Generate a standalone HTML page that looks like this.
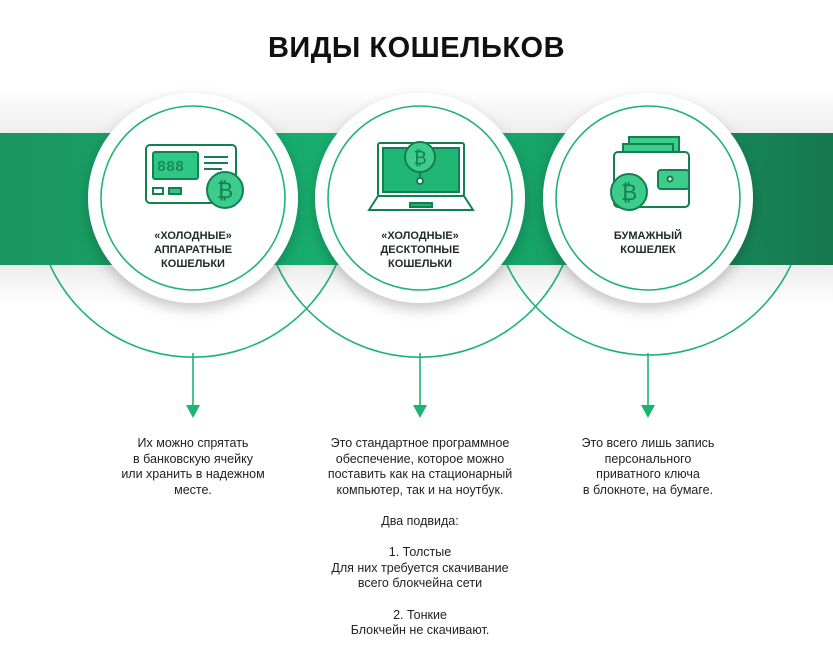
<!DOCTYPE html>
<html><head><meta charset="utf-8"><style>
html,body{margin:0;padding:0;background:#fff;width:833px;height:659px;overflow:hidden;font-family:"Liberation Sans",sans-serif;}
.t{position:absolute;text-align:center;color:#222;font-size:12.5px;line-height:15.6px;}
.lbl{position:absolute;text-align:center;font-weight:bold;font-size:11px;line-height:14px;color:#1d2b26;}
</style></head><body>
<div style="position:absolute;left:0;top:32px;width:833px;text-align:center;font-weight:bold;font-size:29px;color:#111;letter-spacing:0.5px">ВИДЫ КОШЕЛЬКОВ</div>
<svg width="833" height="659" style="position:absolute;left:0;top:0">
<defs>
<linearGradient id="g" x1="0" x2="1"><stop offset="0" stop-color="#1a9560"/><stop offset="0.5" stop-color="#16b572"/><stop offset="1" stop-color="#17774f"/></linearGradient>
<linearGradient id="sh" x1="0" y1="0" x2="0" y2="1"><stop offset="0" stop-color="#fff"/><stop offset="0.25" stop-color="#e9e9e9"/><stop offset="0.75" stop-color="#e6e6e6"/><stop offset="1" stop-color="#fff"/></linearGradient>
<filter id="f" x="-30%" y="-30%" width="160%" height="160%"><feDropShadow dx="0" dy="6" stdDeviation="7" flood-color="#000" flood-opacity="0.22"/></filter>
</defs>
<rect x="0" y="90" width="833" height="215" fill="url(#sh)"/>
<rect x="0" y="133" width="833" height="132" fill="url(#g)"/>
<g fill="none" stroke="#1db473" stroke-width="1.6">
<path d="M50,265 A157,157 0 0 0 336,265"/>
<path d="M277,265 A157,157 0 0 0 563,265"/>
<path d="M507,265 A157,157 0 0 0 791,265"/>
<line x1="193" y1="353" x2="193" y2="408"/>
<line x1="420" y1="353" x2="420" y2="408"/>
<line x1="648" y1="353" x2="648" y2="408"/>
</g>
<g fill="#1db473">
<polygon points="186,405 200,405 193,418"/>
<polygon points="413,405 427,405 420,418"/>
<polygon points="641,405 655,405 648,418"/>
</g>
<g filter="url(#f)" fill="#fff">
<circle cx="193" cy="198" r="105"/><circle cx="420" cy="198" r="105"/><circle cx="648" cy="198" r="105"/>
</g>
<g fill="none" stroke="#1db473" stroke-width="1.6">
<circle cx="193" cy="198" r="92"/><circle cx="420" cy="198" r="92"/><circle cx="648" cy="198" r="92"/>
</g>
<g stroke="#13804f" stroke-width="2" fill="none">
<rect x="146" y="145" width="90" height="58" rx="4" fill="#fff"/>
<rect x="153" y="152" width="45" height="27" rx="2" fill="#2ec886"/>
<line x1="204" y1="157" x2="228" y2="157"/><line x1="204" y1="163" x2="228" y2="163"/><line x1="204" y1="169" x2="222" y2="169"/>
<rect x="153" y="188" width="10" height="6" fill="#fff"/><rect x="169" y="188" width="12" height="6" fill="#2ec886"/>
<circle cx="225" cy="190" r="18" fill="#3ecb8e"/>
</g>
<text x="225" y="198" text-anchor="middle" font-family="Liberation Sans" font-size="22" fill="#13804f">₿</text>
<g fill="#1b8a59" font-family="Liberation Mono" font-size="15" font-weight="bold"><text x="157" y="171">888</text></g>
<g stroke="#13804f" stroke-width="2" fill="none">
<rect x="378" y="143" width="86" height="53" rx="2" fill="#fff"/>
<rect x="383" y="148" width="76" height="44" fill="#1fb574"/>
<path d="M369,210 L378,196 L464,196 L473,210 Z" fill="#fff"/>
<rect x="410" y="203" width="22" height="4" fill="#1fb574"/>
<circle cx="420" cy="157" r="15" fill="#3ecb8e"/>
<circle cx="420" cy="181" r="3" fill="#fff"/>
<line x1="420" y1="172" x2="420" y2="178"/>
</g>
<text x="420" y="164" text-anchor="middle" font-family="Liberation Sans" font-size="18" fill="#13804f">₿</text>
<g stroke="#13804f" stroke-width="2" fill="none">
<rect x="629" y="137" width="50" height="16" fill="#3ecb8e"/>
<rect x="623" y="144" width="50" height="14" fill="#3ecb8e"/>
<rect x="614" y="152" width="75" height="55" rx="4" fill="#fff"/>
<rect x="658" y="170" width="31" height="19" rx="3" fill="#3ecb8e"/>
<circle cx="670" cy="179" r="2.5" fill="#fff"/>
<circle cx="629" cy="192" r="18" fill="#3ecb8e"/>
</g>
<text x="629" y="200" text-anchor="middle" font-family="Liberation Sans" font-size="22" fill="#13804f">₿</text>
</svg>
<div class="lbl" style="left:113px;top:229px;width:160px">«ХОЛОДНЫЕ»<br>АППАРАТНЫЕ<br>КОШЕЛЬКИ</div>
<div class="lbl" style="left:340px;top:229px;width:160px">«ХОЛОДНЫЕ»<br>ДЕСКТОПНЫЕ<br>КОШЕЛЬКИ</div>
<div class="lbl" style="left:568px;top:229px;width:160px">БУМАЖНЫЙ<br>КОШЕЛЕК</div>
<div class="t" style="left:93px;top:436px;width:200px">Их можно спрятать<br>в банковскую ячейку<br>или хранить в надежном<br>месте.</div>
<div class="t" style="left:300px;top:436px;width:240px">Это стандартное программное<br>обеспечение, которое можно<br>поставить как на стационарный<br>компьютер, так и на ноутбук.<br><br>Два подвида:<br><br>1. Толстые<br>Для них требуется скачивание<br>всего блокчейна сети<br><br>2. Тонкие<br>Блокчейн не скачивают.</div>
<div class="t" style="left:548px;top:436px;width:200px">Это всего лишь запись<br>персонального<br>приватного ключа<br>в блокноте, на бумаге.</div>
</body></html>
